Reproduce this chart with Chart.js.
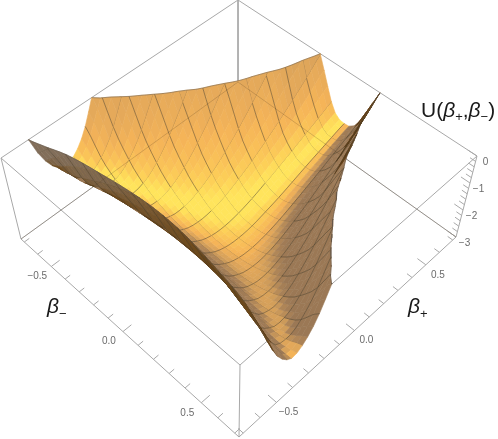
<!DOCTYPE html>
<html>
<head>
<meta charset="utf-8">
<style>html,body{margin:0;padding:0;background:#fff}canvas{display:block}</style>
<script src="https://cdn.jsdelivr.net/npm/chart.js@4"></script>
</head>
<body>
<canvas id="surface" width="498" height="439"></canvas>
<script>
var RANGE = 0.725;
var betaTicks = [-0.7,-0.6,-0.5,-0.4,-0.3,-0.2,-0.1,0,0.1,0.2,0.3,0.4,0.5,0.6,0.7];
var betaLabels = [-0.5, 0, 0.5];
var uTicks = [0,-0.2,-0.4,-0.6,-0.8,-1,-1.2,-1.4,-1.6,-1.8,-2,-2.2,-2.4,-2.6,-2.8,-3];
var uLabels = [0,-1,-2,-3];

// U at the 17x17 mesh nodes, one row per beta+ and one column per beta-, both -0.725 to 0.725.
// Estimates, not measurements: the rim, valley floors and mesh of the picture were matched with
// a three-walled potential of the same shape. Nodes above 0 are cut off in the picture, so those are a guess.
var uValues = [
 [5.84,7.11,8.24,9.20,9.99,10.60,11.04,11.30,11.39,11.30,11.04,10.60,9.99,9.20,8.24,7.11,5.84],
 [1.66,2.58,3.43,4.18,4.82,5.31,5.67,5.89,5.96,5.89,5.67,5.31,4.82,4.18,3.43,2.58,1.66],
 [-0.62,-0.07,0.50,1.03,1.50,1.88,2.16,2.34,2.39,2.34,2.16,1.88,1.50,1.03,0.50,-0.07,-0.62],
 [-1.57,-1.42,-1.15,-0.84,-0.54,-0.28,-0.08,0.05,0.09,0.05,-0.08,-0.28,-0.54,-0.84,-1.15,-1.42,-1.57],
 [-1.55,-1.83,-1.89,-1.83,-1.71,-1.57,-1.46,-1.38,-1.36,-1.38,-1.46,-1.57,-1.71,-1.83,-1.89,-1.83,-1.55],
 [-0.82,-1.58,-2.00,-2.21,-2.28,-2.28,-2.26,-2.24,-2.23,-2.24,-2.26,-2.28,-2.28,-2.21,-2.00,-1.58,-0.82],
 [0.48,-0.83,-1.65,-2.15,-2.43,-2.59,-2.67,-2.70,-2.71,-2.70,-2.67,-2.59,-2.43,-2.15,-1.65,-0.83,0.48],
 [2.27,0.34,-0.94,-1.77,-2.30,-2.62,-2.81,-2.91,-2.94,-2.91,-2.81,-2.62,-2.30,-1.77,-0.94,0.34,2.27],
 [4.52,1.87,0.07,-1.14,-1.95,-2.46,-2.78,-2.95,-3.00,-2.95,-2.78,-2.46,-1.95,-1.14,0.07,1.87,4.52],
 [7.24,3.76,1.34,-0.31,-1.43,-2.17,-2.63,-2.88,-2.96,-2.88,-2.63,-2.17,-1.43,-0.31,1.34,3.76,7.24],
 [10.48,6.01,2.88,0.71,-0.78,-1.77,-2.39,-2.74,-2.84,-2.74,-2.39,-1.77,-0.78,0.71,2.88,6.01,10.48],
 [14.30,8.67,4.70,1.92,0.01,-1.28,-2.10,-2.55,-2.70,-2.55,-2.10,-1.28,0.01,1.92,4.70,8.67,14.30],
 [18.80,11.80,6.84,3.35,0.93,-0.71,-1.76,-2.34,-2.53,-2.34,-1.76,-0.71,0.93,3.35,6.84,11.80,18.80],
 [24.14,15.50,9.35,5.01,1.99,-0.07,-1.38,-2.12,-2.35,-2.12,-1.38,-0.07,1.99,5.01,9.35,15.50,24.14],
 [30.46,19.86,12.30,6.95,3.21,0.67,-0.97,-1.88,-2.18,-1.88,-0.97,0.67,3.21,6.95,12.30,19.86,30.46],
 [37.97,25.03,15.79,9.23,4.63,1.50,-0.52,-1.65,-2.01,-1.65,-0.52,1.50,4.63,9.23,15.79,25.03,37.97],
 [46.93,31.18,19.91,11.91,6.29,2.46,-0.02,-1.40,-1.85,-1.40,-0.02,2.46,6.29,11.91,19.91,31.18,46.93]
];

var CELLS = 16, SUB = 3;
var step = 2 * RANGE / CELLS;

// Smooth reading of the table between nodes, done on asinh(U) so the steep walls stay well behaved
var asinhU = uValues.map(function (row) { return row.map(Math.asinh); });
function nodeAt(i, j) {
    var a = Math.max(0, Math.min(CELLS, i)), b = Math.max(0, Math.min(CELLS, j));
    return asinhU[a][b] + (i - a) * (asinhU[Math.min(CELLS, a + 1)][b] - asinhU[Math.max(0, a - 1)][b]) / 2
        + (j - b) * (asinhU[a][Math.min(CELLS, b + 1)] - asinhU[a][Math.max(0, b - 1)]) / 2;
}
function cubic(a, b, c, d, f) {
    return b + 0.5 * f * (c - a + f * (2 * a - 5 * b + 4 * c - d + f * (3 * (b - c) + d - a)));
}
function surfaceU(p, m) {
    var ip = Math.max(0, Math.min(CELLS - 1, Math.floor((p + RANGE) / step + 1e-9)));
    var im = Math.max(0, Math.min(CELLS - 1, Math.floor((m + RANGE) / step + 1e-9)));
    var fp = (p + RANGE) / step - ip, fm = (m + RANGE) / step - im, col = [];
    for (var k = -1; k <= 2; k++) {
        col.push(cubic(nodeAt(ip + k, im - 1), nodeAt(ip + k, im), nodeAt(ip + k, im + 1), nodeAt(ip + k, im + 2), fm));
    }
    return Math.sinh(cubic(col[0], col[1], col[2], col[3], fp));
}

// The plot box: corners of its top (U=0) and bottom (U=-3) faces
var topFace = [[1,158],[238,0],[477,156],[240,365]];
var botFace = [[21,239],[238,82],[456,237],[239,437]];
function quadMap(q) {
    var x0=q[0][0],y0=q[0][1],x1=q[1][0],y1=q[1][1],x2=q[2][0],y2=q[2][1],x3=q[3][0],y3=q[3][1];
    var dx1=x1-x2,dx2=x3-x2,sx=x0-x1+x2-x3,dy1=y1-y2,dy2=y3-y2,sy=y0-y1+y2-y3;
    var den=dx1*dy2-dx2*dy1,g=(sx*dy2-dx2*sy)/den,h=(dx1*sy-sx*dy1)/den;
    var a=x1-x0+g*x1,b=x3-x0+h*x3,d=y1-y0+g*y1,e=y3-y0+h*y3;
    return function (s, t) { var w=g*s+h*t+1; return [(a*s+b*t+x0)/w,(d*s+e*t+y0)/w]; };
}
var topMap = quadMap(topFace), botMap = quadMap(botFace);
function project(p, m, u) {
    var s = (p + RANGE) / (2 * RANGE), t = (m + RANGE) / (2 * RANGE), w = -u / 3;
    var a = topMap(s, t), b = botMap(s, t);
    return {x: a[0] + (b[0] - a[0]) * w, y: a[1] + (b[1] - a[1]) * w};
}

// Shading
var CAM = [-0.455,0.455,0.766], RIGHT = [0.707,0.707,0], UP = [0.542,-0.542,0.643];
function dot(a, b) { return a[0]*b[0] + a[1]*b[1] + a[2]*b[2]; }
function depth(p, m, u) {
    return dot(CAM, [(p + RANGE) / (2 * RANGE), (m + RANGE) / (2 * RANGE), 0.4 * (u / 3 + 1)]);
}
var ramp = [[0.4,[155,120,85]],[0.5,[170,130,87]],[0.6,[205,155,90]],[0.7,[230,170,90]],[0.76,[245,180,88]],[0.86,[250,195,88]],[0.93,[253,210,88]],[0.98,[255,228,92]]];
var under = [[0,[95,60,20]],[0.5,[110,75,30]],[1,[130,110,90]]];
function lerpRamp(r, v) {
    if (v <= r[0][0]) return r[0][1];
    for (var i = 1; i < r.length; i++) {
        if (v <= r[i][0]) {
            var f = (v - r[i-1][0]) / (r[i][0] - r[i-1][0]);
            return [0,1,2].map(function (k) { return r[i-1][1][k] + (r[i][1][k] - r[i-1][1][k]) * f; });
        }
    }
    return r[r.length-1][1];
}
function shade(p, m) {
    var h = 0.05;
    var pa = Math.max(-RANGE, p-h), pb = Math.min(RANGE, p+h), ma = Math.max(-RANGE, m-h), mb = Math.min(RANGE, m+h);
    var du = (surfaceU(pb,m) - surfaceU(pa,m)) / (pb-pa), dv = (surfaceU(p,mb) - surfaceU(p,ma)) / (mb-ma);
    var k = 2 * RANGE * 0.4 / 3, n = [-du*k, -dv*k, 1], l = Math.sqrt(dot(n,n));
    n = [n[0]/l, n[1]/l, n[2]/l];
    var nv = dot(n,CAM), c;
    if (nv >= 0) c = lerpRamp(ramp, 0.1*dot(n,RIGHT) + 0.2*dot(n,UP) + 0.97*nv);
    else c = lerpRamp(under, Math.min(1, -nv*3));
    return 'rgb(' + Math.round(c[0]) + ',' + Math.round(c[1]) + ',' + Math.round(c[2]) + ')';
}

// Cut a patch at U=0, the top of the plot range
function clipPoly(v) {
    var out = [], edge = [];
    for (var i = 0; i < v.length; i++) {
        var a = v[i], b = v[(i+1) % v.length];
        if (a[2] <= 0) out.push(a);
        if ((a[2] <= 0) !== (b[2] <= 0)) {
            var f = a[2] / (a[2] - b[2]);
            var c = [a[0] + (b[0]-a[0])*f, a[1] + (b[1]-a[1])*f, 0];
            out.push(c); edge.push(c);
        }
    }
    return {poly: out, edge: edge};
}
function clipSeg(pa, ma, pb, mb) {
    var ua = surfaceU(pa,ma), ub = surfaceU(pb,mb);
    if (ua > 0 && ub > 0) return null;
    if (ua > 0 || ub > 0) {
        var f = ua / (ua - ub), pc = pa + (pb-pa)*f, mc = ma + (mb-ma)*f;
        if (ua > 0) { pa = pc; ma = mc; } else { pb = pc; mb = mc; }
    }
    return [pa,ma,pb,mb];
}

function buildCell(i, j) {
    var p0 = -RANGE + i*step, m0 = -RANGE + j*step, h = step/SUB, ds = [], rim = [], mesh = [], a, b;
    for (a = 0; a < SUB; a++) for (b = 0; b < SUB; b++) {
        var Pa = p0 + a*h, Mb = m0 + b*h;
        var v = [[Pa,Mb],[Pa+h,Mb],[Pa+h,Mb+h],[Pa,Mb+h]].map(function (q) { return [q[0],q[1],surfaceU(q[0],q[1])]; });
        var c = clipPoly(v);
        if (c.poly.length < 3) continue;
        var col = shade(Pa + h/2, Mb + h/2);
        var pts = c.poly.map(function (q) { return project(q[0],q[1],q[2]); });
        pts.push(pts[0]);
        ds.push({data: pts, showLine: true, fill: 'shape', backgroundColor: col, borderColor: col, borderWidth: 0.6, pointRadius: 0, tension: 0});
        if (c.edge.length == 2) rim.push(project(c.edge[0][0],c.edge[0][1],0), project(c.edge[1][0],c.edge[1][1],0), {x:null,y:null});
    }
    function seg(pa, ma, pb, mb) {
        var s = clipSeg(pa,ma,pb,mb);
        if (s) mesh.push(project(s[0],s[1],Math.min(0,surfaceU(s[0],s[1]))), project(s[2],s[3],Math.min(0,surfaceU(s[2],s[3]))), {x:null,y:null});
    }
    for (a = 0; a < SUB; a++) {
        if (i > 0) seg(p0, m0 + a*h, p0, m0 + (a+1)*h);
        if (j > 0) seg(p0 + a*h, m0, p0 + (a+1)*h, m0);
    }
    if (mesh.length) ds.push({data: mesh, showLine: true, fill: false, borderColor: 'rgba(70,60,40,0.6)', borderWidth: 0.8, pointRadius: 0, tension: 0});
    if (rim.length) ds.push({data: rim, showLine: true, fill: false, borderColor: 'rgba(90,80,70,0.8)', borderWidth: 0.6, pointRadius: 0, tension: 0});
    return ds;
}
var items = [];
for (var i = 0; i < CELLS; i++) for (var j = 0; j < CELLS; j++) {
    var pc = -RANGE + (i + 0.5)*step, mc = -RANGE + (j + 0.5)*step;
    items.push({d: depth(pc, mc, Math.min(0, surfaceU(pc,mc))), sets: buildCell(i,j)});
}
items.sort(function (a, b) { return a.d - b.d; });

function line(pts, col, w) { return {data: pts, showLine: true, fill: false, borderColor: col, borderWidth: w || 1, pointRadius: 0, tension: 0}; }
function P(a) { return {x: a[0], y: a[1]}; }
var BOX = '#a8a8a8', back = [];
var edges = [[topFace[0],topFace[1]],[topFace[1],topFace[2]],[topFace[2],topFace[3]],[topFace[3],topFace[0]],
 [botFace[0],botFace[1]],[botFace[1],botFace[2]],[botFace[2],botFace[3]],[botFace[3],botFace[0]],
 [topFace[0],botFace[0]],[topFace[1],botFace[1]],[topFace[2],botFace[2]],[topFace[3],botFace[3]]];
edges.forEach(function (e) { back.push(line([P(e[0]),P(e[1])], BOX, 1)); });
betaTicks.forEach(function (b) {
    var len = betaLabels.indexOf(b) >= 0 ? 0.05 : 0.03;
    back.push(line([project(-RANGE,b,-3), project(-RANGE+len,b,-3)], BOX, 1));
    back.push(line([project(b,RANGE,-3), project(b,RANGE-len,-3)], BOX, 1));
});
uTicks.forEach(function (u) {
    var len = uLabels.indexOf(u) >= 0 ? 0.05 : 0.03;
    back.push(line([project(RANGE,RANGE,u), project(RANGE,RANGE-len,u)], BOX, 1));
});
// box edges behind the surface show faintly through it
var over = [line([P(botFace[1]),P(botFace[0])], 'rgba(80,60,30,0.22)', 1), line([P(botFace[1]),P(botFace[2])], 'rgba(80,60,30,0.22)', 1)];
var all = back.slice();
items.forEach(function (it) { all = all.concat(it.sets); });
all = all.concat(over);
all.reverse();

function run(c, x, y, str, font) { c.font = font; c.fillText(str, x, y); return x + c.measureText(str).width; }
function fmt(v) { return v === 0 ? '0.0' : (v < 0 ? '\u2212' : '') + Math.abs(v).toFixed(1); }
var textPlugin = {id: 'text', afterDraw: function (chart) {
    var c = chart.ctx;
    c.save();
    c.textBaseline = 'middle'; c.fillStyle = '#6b6b6b'; c.font = '10px "Liberation Sans"'; c.textAlign = 'center';
    betaLabels.forEach(function (t) {
        var q = project(-RANGE,t,-3); c.fillText(fmt(t), q.x-14, q.y+10);
        q = project(t,RANGE,-3); c.fillText(fmt(t), q.x+12, q.y+10);
    });
    uLabels.forEach(function (u) {
        var q = project(RANGE,RANGE,u);
        c.fillText(u === 0 ? '0' : '\u2212' + (-u), q.x+8.5, q.y+6.5);
    });
    c.textAlign = 'left'; c.textBaseline = 'alphabetic'; c.fillStyle = '#1a1a1a';
    var R = '21px "Liberation Sans"', I = 'italic 21px "Liberation Sans"', S = '13px "Liberation Sans"';
    var x = run(c,421,117,'U(',R);
    x = run(c,x,117,'\u03b2',I); x = run(c,x,121,'+',S); x = run(c,x,117,',',R);
    x = run(c,x,117,'\u03b2',I); x = run(c,x,121,'\u2212',S); run(c,x,117,')',R);
    x = run(c,47,313,'\u03b2',I); run(c,x,318,'\u2212',S);
    x = run(c,408,313,'\u03b2',I); run(c,x,318,'+',S);
    c.restore();
}};
new Chart(document.getElementById('surface'), {
    type: 'scatter',
    data: {datasets: all},
    plugins: [textPlugin],
    options: {
        responsive: false, animation: false, events: [], layout: {padding: 0},
        plugins: {legend: {display: false}, tooltip: {enabled: false}},
        scales: {
            x: {type: 'linear', min: 0, max: 498, display: false},
            y: {type: 'linear', min: 0, max: 439, reverse: true, display: false}
        }
    }
});
</script>
</body>
</html>
